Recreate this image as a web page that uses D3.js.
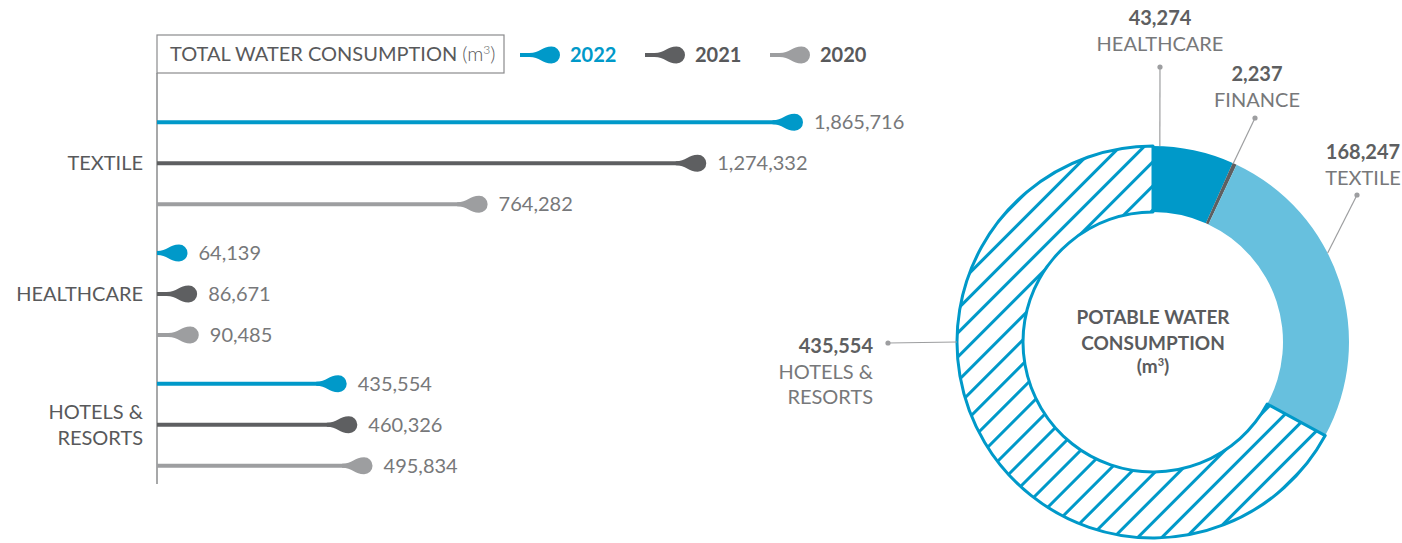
<!DOCTYPE html>
<html>
<head>
<meta charset="utf-8">
<script src="https://cdn.jsdelivr.net/npm/d3@7"></script>
<style>
  html, body { margin: 0; padding: 0; background: #ffffff; }
  svg { display: block; font-family: Lato, "Open Sans", sans-serif; }
</style>
</head>
<body>
<svg id="chart" width="1402" height="543"></svg>
<script>
// ---- data ----
const categories = ["TEXTILE", "HEALTHCARE", "HOTELS & RESORTS"];
const years = ["2022", "2021", "2020"];
const values2022 = [1865716, 64139, 435554];
const values2021 = [1274332, 86671, 460326];
const values2020 = [764282, 90485, 495834];

const potableSectors = ["HEALTHCARE", "FINANCE", "TEXTILE", "HOTELS & RESORTS"];
const potableValues = [43274, 2237, 168247, 435554];

// ---- styles ----
const yearColors = { "2022": "#0099c9", "2021": "#5e5f61", "2020": "#9d9ea0" };
const legendTextColors = { "2022": "#0099c9", "2021": "#58595b", "2020": "#58595b" };
const sectorFills = ["#0099c9", "#5e5f61", "#67c0de", "url(#hatch)"];
const textGray = "#58595b";
const valueGray = "#77787a";
const leaderGray = "#9d9ea0";

const svg = d3.select("#chart");
const fmt = d3.format(",");

// splits "HOTELS & RESORTS" into two lines after the ampersand
const splitLines = s => s.includes(" & ") ? [s.split(" & ")[0] + " &", s.split(" & ")[1]] : [s];

// teardrop marker: tail on the left, round bulb whose centre is (0,0)
const BULB_R = 8.5, TAIL_H = 2, TAIL_L = 22;
const dropPath = `M${-TAIL_L},${-TAIL_H} C${-12},${-TAIL_H} ${-9},${-BULB_R} 0,${-BULB_R}
  A${BULB_R},${BULB_R} 0 1 1 0,${BULB_R} C${-9},${BULB_R} ${-12},${TAIL_H} ${-TAIL_L},${TAIL_H} Z`;

// ---- hatch pattern ----
const defs = svg.append("defs");
const pat = defs.append("pattern")
  .attr("id", "hatch")
  .attr("patternUnits", "userSpaceOnUse")
  .attr("width", 17).attr("height", 17)
  .attr("patternTransform", "rotate(45)");
pat.append("rect").attr("width", 17).attr("height", 17).attr("fill", "#ffffff");
pat.append("line").attr("x1", 8.5).attr("y1", -1).attr("x2", 8.5).attr("y2", 18)
  .attr("stroke", "#0099c9").attr("stroke-width", 3);

// ================= left: total water consumption =================
const axisX = 157;
// bars longer than the domain are cut at the right edge
const x = d3.scaleLinear().domain([0, 1500000]).range([160, 803]).clamp(true);
const yCat = d3.scaleBand().domain(categories).range([98, 490]).padding(0);
const yYear = d3.scalePoint().domain(years).range([-41, 41]);

const series = years.map((yr, i) => ({
  year: yr,
  values: [values2022, values2021, values2020][i]
}));

// title box
svg.append("rect")
  .attr("x", axisX).attr("y", 35).attr("width", 347).attr("height", 38)
  .attr("fill", "none").attr("stroke", "#8a8b8d").attr("stroke-width", 1.2);
const title = svg.append("text")
  .attr("x", 170).attr("y", 61)
  .attr("font-size", 20).attr("fill", textGray);
title.append("tspan").attr("font-weight", 400).text("TOTAL WATER CONSUMPTION ");
title.append("tspan").attr("font-weight", 300).text("(m");
title.append("tspan").attr("font-weight", 300).attr("font-size", 12).attr("dy", -7).text("3");
title.append("tspan").attr("font-weight", 300).attr("dy", 7).text(")");

// vertical axis
svg.append("line")
  .attr("x1", axisX).attr("x2", axisX).attr("y1", 73).attr("y2", 484)
  .attr("stroke", "#8a8b8d").attr("stroke-width", 1.5);

// legend
const legend = svg.append("g").selectAll("g").data(years).join("g")
  .attr("transform", (d, i) => `translate(${520 + i * 125},55)`);
legend.append("line")
  .attr("x1", 0).attr("x2", 40 - BULB_R).attr("y1", 0).attr("y2", 0)
  .attr("stroke", d => yearColors[d]).attr("stroke-width", 4);
legend.append("path")
  .attr("transform", `translate(${40 - BULB_R},0)`)
  .attr("d", dropPath).attr("fill", d => yearColors[d]);
legend.append("text")
  .attr("x", 50).attr("y", 0).attr("dy", "0.35em")
  .attr("font-size", 20).attr("font-weight", 700)
  .attr("fill", d => legendTextColors[d]).text(d => d);

// category labels
const catLabels = svg.append("g").selectAll("text").data(categories).join("text")
  .attr("text-anchor", "end")
  .attr("font-size", 20).attr("fill", textGray)
  .attr("x", 143);
catLabels.each(function(d) {
  const lines = splitLines(d);
  const cy = yCat(d) + yCat.bandwidth() / 2;
  const t = d3.select(this);
  lines.forEach((ln, k) => {
    t.append("tspan").attr("x", 143)
      .attr("y", cy + (k - (lines.length - 1) / 2) * 26)
      .attr("dy", "0.35em").text(ln);
  });
});

// bars
const rows = [];
series.forEach(s => s.values.forEach((v, i) => rows.push({ year: s.year, cat: categories[i], value: v })));
const rowY = d => yCat(d.cat) + yCat.bandwidth() / 2 + yYear(d.year);

const bars = svg.append("g").selectAll("g").data(rows).join("g");
bars.append("line")
  .attr("x1", axisX).attr("x2", d => x(d.value) - BULB_R)
  .attr("y1", rowY).attr("y2", rowY)
  .attr("stroke", d => yearColors[d.year]).attr("stroke-width", 4);
bars.append("path")
  .attr("transform", d => `translate(${x(d.value) - BULB_R},${rowY(d)})`)
  .attr("d", dropPath).attr("fill", d => yearColors[d.year]);
bars.append("text")
  .attr("x", d => x(d.value) + 11).attr("y", rowY).attr("dy", "0.35em")
  .attr("font-size", 20).attr("font-weight", 400).attr("fill", valueGray)
  .text(d => fmt(d.value));

// ================= right: potable water donut =================
const cx = 1153, cy = 342, R = 196, r = 130;
const pie = d3.pie().sort(null).value(d => d.value);
const slices = pie(potableSectors.map((s, i) => ({ sector: s, value: potableValues[i], fill: sectorFills[i] })));
const arc = d3.arc().innerRadius(r).outerRadius(R);

const donut = svg.append("g").attr("transform", `translate(${cx},${cy})`);
donut.selectAll("path").data(slices).join("path")
  .attr("d", arc)
  .attr("fill", d => d.data.fill)
  .attr("stroke", d => d.data.fill.startsWith("url") ? "#0099c9" : "none")
  .attr("stroke-width", 3)
  .attr("stroke-linejoin", "round");

// centre title
const ct = donut.append("text").attr("text-anchor", "middle")
  .attr("font-size", 19).attr("font-weight", 700).attr("fill", "#5a5b5d");
ct.append("tspan").attr("x", 0).attr("y", -18).text("POTABLE WATER");
ct.append("tspan").attr("x", 0).attr("y", 8).text("CONSUMPTION");
ct.append("tspan").attr("x", 0).attr("y", 31).text("(m");
ct.append("tspan").attr("font-size", 11).attr("dy", -7).text("3");
ct.append("tspan").attr("dy", 7).text(")");

// leader lines and callouts (offsets from the donut centre)
const callouts = [
  { anchor: 2,    dot: [7, -275],   label: [7, -317],   align: "middle" },
  { anchor: 24.2, dot: [102, -224], label: [104, -261], align: "middle" },
  { anchor: 63,   dot: [204, -147], label: [210, -183], align: "middle" },
  { anchor: 270,  dot: [-265, 1],   label: [-280, 11],  align: "end" }
];
const lead = donut.append("g");
slices.forEach((s, i) => {
  const c = callouts[i];
  const a = c.anchor * Math.PI / 180;
  const ex = R * Math.sin(a), ey = -R * Math.cos(a);
  lead.append("line")
    .attr("x1", c.dot[0]).attr("y1", c.dot[1]).attr("x2", ex).attr("y2", ey)
    .attr("stroke", leaderGray).attr("stroke-width", 1.2);
  lead.append("circle").attr("cx", c.dot[0]).attr("cy", c.dot[1]).attr("r", 2.6)
    .attr("fill", leaderGray);
  const t = lead.append("text").attr("text-anchor", c.align).attr("font-size", 20);
  t.append("tspan").attr("x", c.label[0]).attr("y", c.label[1])
    .attr("font-weight", 700).attr("fill", "#5e5f61").text(fmt(s.data.value));
  splitLines(s.data.sector).forEach((ln, k) => {
    t.append("tspan").attr("x", c.label[0]).attr("y", c.label[1] + 26 + k * 25)
      .attr("font-weight", 400).attr("fill", "#77787a").text(ln);
  });
});
</script>
</body>
</html>
